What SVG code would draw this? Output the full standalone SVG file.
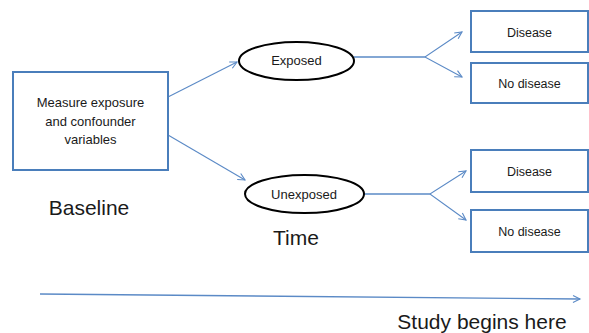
<svg xmlns="http://www.w3.org/2000/svg" width="589" height="333" viewBox="0 0 589 333">
  <style>
    .box { fill: #ffffff; stroke: #4a7ebb; stroke-width: 2; }
    .oval { fill: #ffffff; stroke: #000000; stroke-width: 2; }
    .conn { fill: none; stroke: #5b8ac6; stroke-width: 1.1; marker-end: url(#arrow); }
    .t { font-family: "Liberation Sans", Arial, sans-serif; fill: #1a1a1a; text-anchor: middle; }
    .s { font-size: 13px; }
    .d { font-size: 12.5px; }
    .big { font-size: 21px; }
  </style>
  <defs>
    <marker id="arrow" markerUnits="userSpaceOnUse" markerWidth="12" markerHeight="12" viewBox="-10 -6 12 12" refX="0" refY="0" orient="auto">
      <path d="M-7,-3.5 L0,0 L-7,3.5" fill="none" stroke="#5b8ac6" stroke-width="1.1"/>
    </marker>
  </defs>
  <rect width="589" height="333" fill="#ffffff"/>

  <g id="connectors">
    <path class="conn" d="M168,97 L237,62"/>
    <path class="conn" d="M168,135 L245,180"/>
    <path class="conn" d="M354,57 H425 L462,32"/>
    <path class="conn" d="M354,57 H425 L462,77"/>
    <path class="conn" d="M364,194 H430 L466,171"/>
    <path class="conn" d="M364,194 H430 L466,220"/>
    <path class="conn" d="M40,294 L580,299" style="stroke-width:1.4"/>
  </g>

  <g id="baseline-box">
    <rect class="box" x="13" y="72" width="155" height="98"/>
    <text class="t s" x="90.5" y="107">Measure exposure</text>
    <text class="t s" x="90.5" y="125.5">and confounder</text>
    <text class="t s" x="90.5" y="144">variables</text>
  </g>

  <g id="exposed">
    <ellipse class="oval" cx="296.5" cy="61" rx="57.5" ry="19"/>
    <text class="t s" x="296.5" y="65">Exposed</text>
  </g>

  <g id="unexposed">
    <ellipse class="oval" cx="304.5" cy="194" rx="59.5" ry="19"/>
    <text class="t s" x="304" y="198.5">Unexposed</text>
  </g>

  <g id="exposed-disease">
    <rect class="box" x="471" y="11" width="117" height="41"/>
    <text class="t d" x="529.5" y="36.5">Disease</text>
  </g>
  <g id="exposed-no-disease">
    <rect class="box" x="471" y="63" width="117" height="40"/>
    <text class="t d" x="529.5" y="87.5">No disease</text>
  </g>
  <g id="unexposed-disease">
    <rect class="box" x="471" y="150" width="117" height="42"/>
    <text class="t d" x="529.5" y="175.5">Disease</text>
  </g>
  <g id="unexposed-no-disease">
    <rect class="box" x="471" y="210" width="117" height="42"/>
    <text class="t d" x="529.5" y="236">No disease</text>
  </g>

  <g id="labels">
    <text class="t big" x="89" y="215">Baseline</text>
    <text class="t big" x="296" y="245">Time</text>
    <text class="t big" x="482" y="329">Study begins here</text>
  </g>
</svg>
